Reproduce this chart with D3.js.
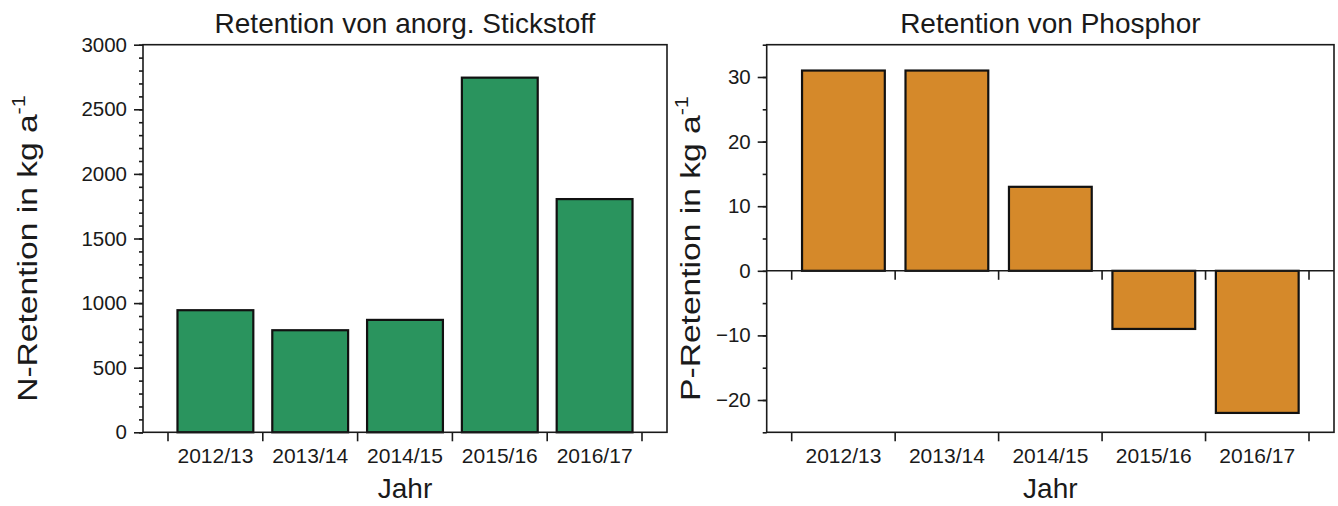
<!DOCTYPE html>
<html>
<head>
<meta charset="utf-8">
<script src="https://cdn.jsdelivr.net/npm/d3@7"></script>
<style>
  html, body { margin: 0; padding: 0; background: #fff; }
  svg { display: block; font-family: "Liberation Sans", Arial, Helvetica, sans-serif; }
</style>
</head>
<body>
<svg id="chart" width="1338" height="506"></svg>
<script>
// Hydrological years shared by both panels
const years = ["2012/13", "2013/14", "2014/15", "2015/16", "2016/17"];

// Retention of inorganic nitrogen, kg per year
const nRetention = [945, 790, 870, 2745, 1805];
// Retention of phosphorus, kg per year
const pRetention = [31, 31, 13, -9, -22];

// Axis tick values
const nMajorTicks = [0, 500, 1000, 1500, 2000, 2500, 3000];
const nMinorTicks = d3.range(0, 3001, 100);
const pMajorTicks = [-20, -10, 0, 10, 20, 30];
const pMinorTicks = d3.range(-25, 36, 5);

const panels = [
  {
    title: "Retention von anorg. Stickstoff",
    ylabel: "N-Retention in kg a",
    values: nRetention,
    domain: [0, 3000],
    major: nMajorTicks,
    minor: nMinorTicks,
    fill: "#2a945e",
    box: { x0: 143, x1: 667, y0: 44.7, y1: 432.3 },
    titleX: 37
  },
  {
    title: "Retention von Phosphor",
    ylabel: "P-Retention in kg a",
    values: pRetention,
    domain: [-25, 35],
    major: pMajorTicks,
    minor: pMinorTicks,
    fill: "#d5892a",
    box: { x0: 766.7, x1: 1334, y0: 44.7, y1: 432.3 },
    titleX: 700
  }
];

const svg = d3.select("#chart");
const ink = "#1a1a1a";

panels.forEach(p => {
  const b = p.box;
  const g = svg.append("g");

  const x = d3.scaleBand()
    .domain(years)
    .range([b.x0 + 25, b.x1 - 25])
    .paddingInner(0.2)
    .paddingOuter(0.1);

  const y = d3.scaleLinear().domain(p.domain).range([b.y1, b.y0]);
  const zeroY = y(0);

  // bars
  g.selectAll("rect.bar")
    .data(years.map((yr, i) => ({ yr, v: p.values[i] })))
    .join("rect")
    .attr("class", "bar")
    .attr("x", d => x(d.yr))
    .attr("width", x.bandwidth())
    .attr("y", d => Math.min(y(d.v), zeroY))
    .attr("height", d => Math.abs(y(d.v) - zeroY))
    .attr("fill", p.fill)
    .attr("stroke", "#111")
    .attr("stroke-width", 2.2);

  // frame around the plot area
  g.append("rect")
    .attr("x", b.x0).attr("y", b.y0)
    .attr("width", b.x1 - b.x0).attr("height", b.y1 - b.y0)
    .attr("fill", "none")
    .attr("stroke", ink)
    .attr("stroke-width", 1.6);

  // zero line when the range crosses zero
  if (p.domain[0] < 0) {
    g.append("line")
      .attr("x1", b.x0).attr("x2", b.x1)
      .attr("y1", zeroY).attr("y2", zeroY)
      .attr("stroke", ink).attr("stroke-width", 1.6);
  }

  // y axis: minor ticks, then major ticks with labels
  const yMinor = g.append("g").attr("transform", `translate(${b.x0},0)`)
    .call(d3.axisLeft(y).tickValues(p.minor).tickSize(4).tickFormat(""));
  const yMajor = g.append("g").attr("transform", `translate(${b.x0},0)`)
    .call(d3.axisLeft(y).tickValues(p.major).tickSize(9).tickPadding(7).tickFormat(d3.format("d")));
  [yMinor, yMajor].forEach(ax => {
    ax.select(".domain").remove();
    ax.selectAll("line").attr("stroke", ink).attr("stroke-width", 1.6);
  });
  yMajor.selectAll("text")
    .attr("fill", "#1a1a1a")
    .attr("font-size", 20.5)
    .attr("font-family", "Liberation Sans, Arial, sans-serif");

  // x axis: ticks on the category boundaries
  const step = x.step();
  const start = x.range()[0];
  const bounds = d3.range(years.length + 1).map(i => start + i * step);
  const tickRows = [b.y1];
  if (p.domain[0] < 0) tickRows.push(zeroY);
  tickRows.forEach(ty => {
    g.selectAll(null)
      .data(bounds)
      .join("line")
      .attr("x1", d => d).attr("x2", d => d)
      .attr("y1", ty).attr("y2", ty + 9)
      .attr("stroke", ink).attr("stroke-width", 1.6);
  });

  // category labels
  const xAxis = g.append("g").attr("transform", `translate(0,${b.y1})`)
    .call(d3.axisBottom(x).tickSize(0).tickPadding(0));
  xAxis.select(".domain").remove();
  xAxis.selectAll("text")
    .attr("dy", null)
    .attr("y", 31)
    .attr("fill", "#1a1a1a")
    .attr("font-size", 21)
    .attr("font-family", "Liberation Sans, Arial, sans-serif");

  const cx = (b.x0 + b.x1) / 2;

  // panel title
  g.append("text")
    .attr("x", cx).attr("y", 33)
    .attr("text-anchor", "middle")
    .attr("font-size", 28)
    .attr("fill", "#1a1a1a")
    .text(p.title);

  // x axis title
  g.append("text")
    .attr("x", cx).attr("y", 498)
    .attr("text-anchor", "middle")
    .attr("font-size", 28)
    .attr("fill", "#1a1a1a")
    .text("Jahr");

  // y axis title with superscript unit exponent
  const yt = g.append("text")
    .attr("transform", `translate(${p.titleX},${(b.y0 + b.y1) / 2 + 10}) rotate(-90) scale(1.2,1)`)
    .attr("text-anchor", "middle")
    .attr("font-size", 28)
    .attr("fill", "#1a1a1a");
  yt.append("tspan").text(p.ylabel);
  yt.append("tspan").attr("dy", -12).attr("font-size", 18).text("-1");
});
</script>
</body>
</html>
